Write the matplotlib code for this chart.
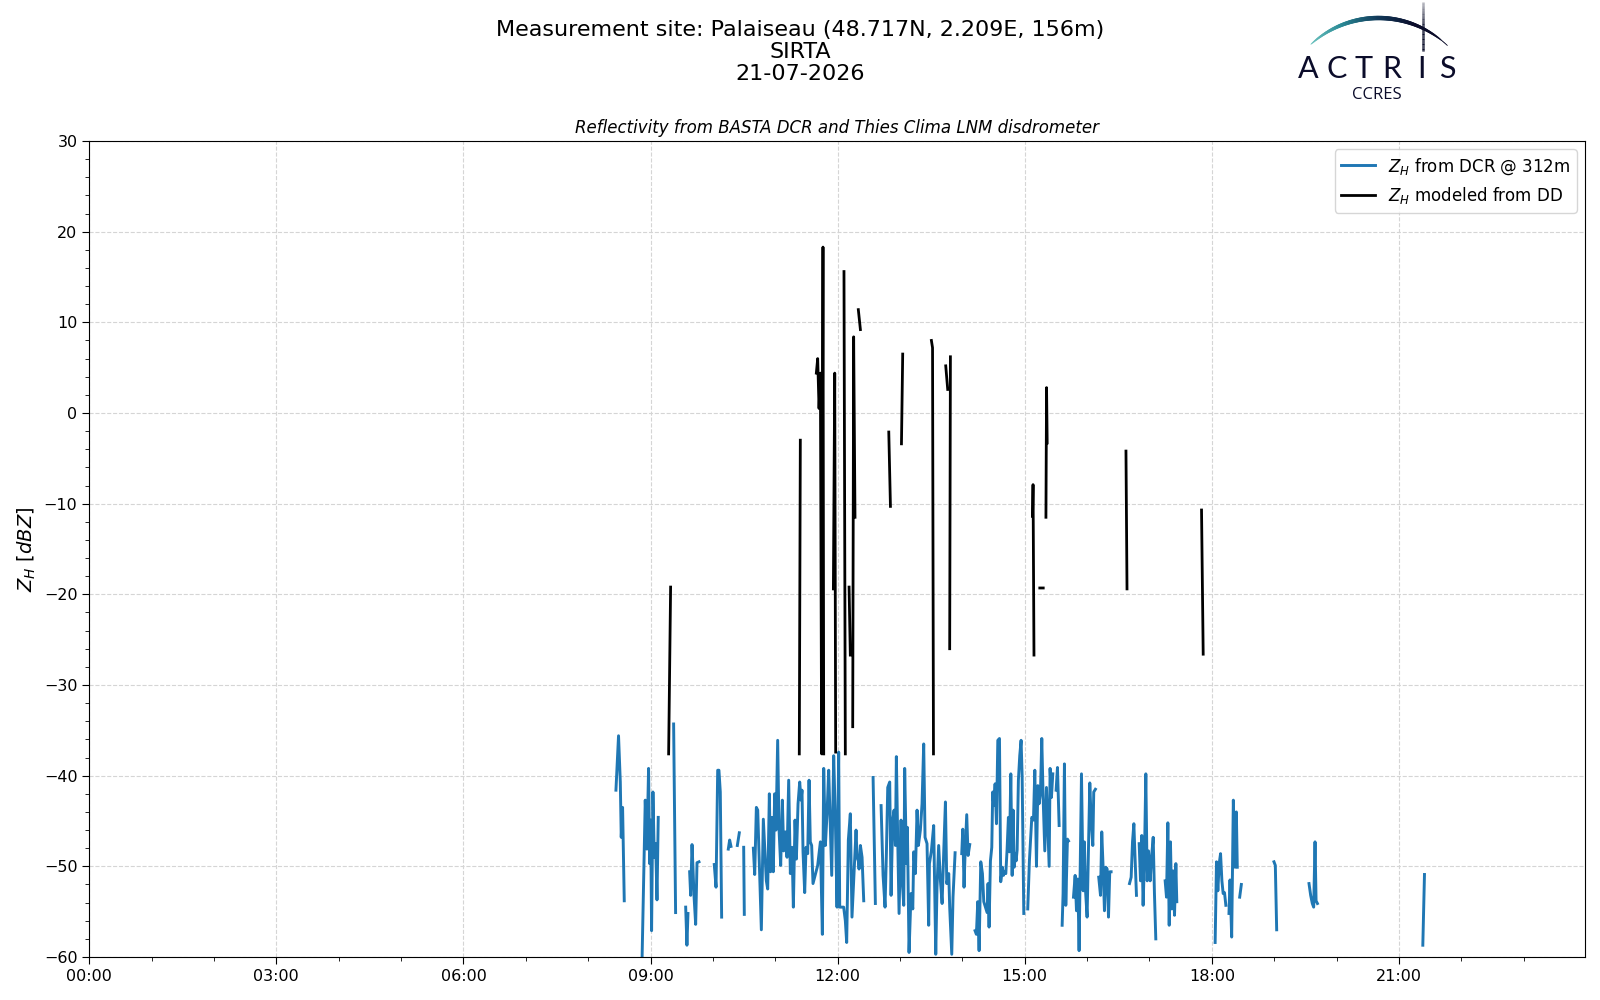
#!/usr/bin/env python3

import numpy as np
import matplotlib
matplotlib.use("Agg")
import matplotlib.pyplot as plt
import matplotlib.dates as mdates
from matplotlib.collections import LineCollection
from matplotlib.colors import LinearSegmentedColormap
import datetime as dt

nan = np.nan

# Z_H from the cloud radar at 312 m: minutes after midnight, dBZ (nan = gap)
dcr_time_min = [
    506.7, 509.2, 510.9, 511.8, 513.1, 514.7, nan,
    531.7, 534.9, 536.5, 538.1, 539.1, 540.1, 541.0, 542.3, 543.6, 544.9, 546.2, 547.4, nan,
    562.2, 564.1, nan,
    573.8, 575.0, 576.0, nan,
    577.6, 578.6, 579.9, 580.8, 581.8, 583.4, 584.7, 586.6, nan,
    601.3, 603.0, 604.6, 605.8, 607.1, 608.4, nan,
    614.8, 616.1, 617.4, nan,
    623.5, 625.4, nan,
    629.6, 630.2, nan,
    638.9, 640.2, 641.8, 643.1, 646.6, 648.5, 651.4, 652.7, 654.3, 655.5, 656.8, 658.1,
    659.4, 660.7, 662.3, 663.6, 665.2, 666.8, 668.1, 669.7, 671.3, 672.9, 674.5, 676.1,
    677.4, 679.0, 680.3, 681.9, 683.5, 684.8, 685.7, 686.7, 688.3, 689.6, 691.2, 692.5,
    693.7, 695.0, 696.3, 700.8, 703.4, 705.3, 706.6, 708.2, 709.8, 711.4, 713.0, 714.3,
    716.2, 717.8, 719.4, 721.0, 722.0, 725.8, 727.4, 728.7, 730.3, 732.2, 733.8,
    737.7, 738.7, 739.9, 740.6, 741.9, 743.5, 745.1, nan,
    754.1, 756.3, nan,
    761.8, 763.7, 765.6, 766.9, 768.2, 770.1, 771.4, 773.0, 774.3, 775.6, 776.5, 777.8,
    779.1, 781.0, 782.3, 783.6, 784.5, 786.2, 787.1, 788.7, 790.6, 792.3, 793.2, 794.8,
    796.4, 797.7, 799.6, 801.2, 802.8, 804.1, 806.0, 807.6, 808.3, 810.2, 812.4, 814.4,
    815.6, 817.2, 818.9, 820.5, 822.1, 823.7, 825.0, 826.9, 827.8, 829.8, 831.0, 833.0, nan,
    839.4, 840.4, 841.6, 842.6, 844.2, 845.5, 847.1, nan,
    852.2, 853.5, 854.8, 856.1, 857.7, 859.3, 860.6, 863.8, 864.7, 865.7, 867.0, 868.3,
    869.2, 870.2, 871.5, 872.8, 874.1, 875.7, 876.9, 878.5, 879.5, 880.5, 881.8, 883.0,
    884.3, 885.3, 886.6, 887.9, 888.8, 889.8, 890.7, 891.7, 892.7, 893.9, 895.2, 896.5,
    897.5, 899.1, nan,
    902.9, 904.5, 906.8, 908.4, 909.7, 911.3, 912.6, 913.8, 915.1, 916.4, 917.7, 919.3,
    920.9, 921.9, 923.5, 924.4, 925.7, 927.0, nan,
    930.2, 931.5, 933.1, nan,
    936.0, 936.9, 938.2, 939.5, 941.1, 942.1, nan,
    946.9, 948.5, 949.8, 951.1, 952.3, 954.6, 956.2, 957.4, 958.4, 960.0, 961.3, 962.6,
    963.9, 965.5, 966.4, 968.0, nan,
    971.2, 972.9, 974.1, 975.4, 976.7, 978.0, 979.3, 980.6, 981.8, 983.1, nan,
    1000.8, 1002.4, 1003.7, 1005.0, 1005.9, 1007.5, nan,
    1010.1, 1011.4, 1012.6, 1013.9, 1015.2, 1016.5, 1017.8, 1019.1, 1020.7, 1022.0, 1023.6,
    1024.8, 1026.1, nan,
    1035.1, 1036.4, 1037.7, 1039.0, 1040.2, 1041.5, 1042.8, 1044.1, 1045.4, 1046.3, nan,
    1083.2, 1084.5, 1085.8, 1087.1, 1088.4, 1089.7, 1090.9, 1092.2, 1093.5, nan,
    1096.5, 1097.5, 1099.1, 1100.7, 1102.3, 1103.6, 1104.5, nan,
    1106.8, 1108.4, nan,
    1139.8, 1141.1, 1142.4, nan,
    1173.5, 1175.1, 1176.7, 1178.0, 1179.3, 1180.3, 1181.6, nan,
    1283.0, 1284.6,
]
dcr_dbz = [
    -41.6, -35.6, -40.7, -46.8, -43.5, -53.8, nan,
    -61.0, -42.7, -48.1, -39.2, -49.7, -44.9, -57.1, -41.8, -49.0, -47.5, -53.7, -44.6, nan,
    -34.3, -55.1, nan,
    -54.5, -58.7, -55.2, nan,
    -50.6, -53.2, -47.6, -50.1, -53.2, -56.4, -49.6, -49.5, nan,
    -49.8, -52.3, -39.4, -39.4, -41.8, -55.6, nan,
    -48.1, -47.1, -47.8, nan,
    -47.7, -46.3, nan,
    -47.9, -55.3, nan,
    -48.0, -50.9, -43.5, -43.8, -57.0, -44.8, -51.6, -52.5, -42.0, -50.6, -44.6, -50.6,
    -42.0, -46.0, -36.1, -45.9, -49.9, -42.7, -48.3, -46.2, -49.0, -40.5, -50.8, -47.9,
    -54.5, -44.9, -49.2, -43.1, -40.7, -42.7, -41.6, -48.4, -52.9, -47.9, -48.6, -40.5,
    -47.3, -47.7, -51.9, -49.9, -47.3, -57.5, -39.2, -47.7, -44.2, -39.4, -46.0, -51.0,
    -37.8, -44.8, -54.5, -37.4, -54.5, -54.5, -56.0, -58.4, -47.1, -44.2, -55.6,
    -46.0, -49.0, -49.4, -50.3, -47.7, -49.0, -53.8, nan,
    -40.2, -54.1, nan,
    -43.3, -51.0, -54.5, -48.6, -41.3, -40.7, -53.2, -44.9, -43.8, -47.7, -37.9, -47.0,
    -55.2, -44.9, -51.9, -54.3, -39.2, -49.7, -45.7, -59.5, -53.0, -54.7, -48.4, -50.8,
    -43.8, -47.7, -46.0, -43.1, -36.5, -46.8, -47.5, -56.5, -49.7, -48.3, -45.5, -59.7,
    -52.3, -47.7, -51.6, -54.1, -48.3, -42.9, -51.9, -50.8, -54.5, -59.7, -53.4, -48.5, nan,
    -48.6, -45.9, -52.3, -48.6, -44.3, -48.8, -47.6, nan,
    -57.1, -57.5, -53.9, -59.3, -49.5, -50.8, -53.9, -55.1, -51.9, -56.7, -49.4, -47.9,
    -41.8, -43.3, -40.9, -45.3, -36.1, -35.9, -51.7, -50.1, -51.0, -50.6, -50.8, -48.2,
    -44.6, -48.4, -39.8, -51.0, -43.8, -50.1, -48.6, -49.4, -48.2, -40.5, -37.8, -36.1,
    -40.0, -55.2, nan,
    -54.7, -49.4, -44.6, -44.9, -39.4, -50.0, -41.1, -43.1, -42.0, -35.9, -42.4, -48.3,
    -41.3, -44.6, -50.0, -39.2, -42.4, -39.8, nan,
    -41.6, -39.1, -45.5, nan,
    -56.5, -53.0, -38.7, -54.3, -47.0, -47.2, nan,
    -53.4, -51.0, -54.9, -51.4, -59.3, -39.8, -52.7, -47.3, -52.5, -55.6, -47.9, -40.8,
    -44.9, -47.7, -41.8, -41.5, nan,
    -51.2, -53.2, -46.2, -50.1, -54.9, -50.1, -50.3, -55.6, -50.6, -50.6, nan,
    -51.9, -51.2, -47.3, -45.3, -48.3, -53.2, nan,
    -47.5, -51.6, -46.6, -54.3, -49.0, -39.8, -51.6, -48.3, -51.6, -49.0, -46.8,
    -53.0, -58.0, nan,
    -51.6, -53.4, -45.2, -56.5, -47.3, -54.7, -50.5, -55.4, -49.7, -53.9, nan,
    -58.4, -49.5, -52.7, -49.7, -48.6, -51.6, -53.0, -52.9, -54.3, nan,
    -55.2, -51.5, -57.8, -42.7, -50.1, -44.0, -50.1, nan,
    -53.4, -52.0, nan,
    -49.5, -49.9, -57.0, nan,
    -51.9, -53.2, -54.1, -54.5, -47.3, -53.8, -54.1, nan,
    -58.7, -50.9,
]

# Z_H modeled from the disdrometer drop size distribution
dd_time_min = [
    557.4, 559.3, nan,
    683.1, 684.1, nan,
    699.5, 700.8, 702.1, 703.4, 704.6, 705.9, 706.6, nan,
    715.9, 717.2, 718.1, nan,
    726.1, 727.4, nan,
    731.0, 732.2, nan,
    734.5, 735.4, 736.7, nan,
    739.9, 741.9, nan,
    769.2, 770.8, nan,
    781.4, 782.6, nan,
    810.2, 811.3, 812.2, nan,
    824.0, 825.9, nan,
    827.8, 828.5, nan,
    907.5, 908.0, 908.9, nan,
    914.5, 917.8, nan,
    920.4, 921.0, 921.6, nan,
    997.4, 998.4, nan,
    1070.1, 1071.7,
]
dd_dbz = [
    -37.6, -19.2, nan,
    -37.6, -3.0, nan,
    4.4, 6.0, 0.5, 4.4, -37.6, 18.3, -37.6, nan,
    -19.4, 4.4, -37.4, nan,
    15.6, -37.6, nan,
    -19.2, -26.7, nan,
    -34.6, 8.4, -11.5, nan,
    11.4, 9.2, nan,
    -2.1, -10.3, nan,
    -3.4, 6.5, nan,
    8.0, 7.2, -37.6, nan,
    5.2, 2.6, nan,
    -26.0, 6.2, nan,
    -11.4, -7.9, -26.7, nan,
    -19.3, -19.3, nan,
    -11.5, 2.8, -3.3, nan,
    -4.2, -19.4, nan,
    -10.7, -26.6,
]

day = dt.datetime(2026, 7, 21)
day0 = mdates.date2num(day)

def to_dates(minutes):
    return day0 + np.asarray(minutes, dtype=float) / 1440.0

fig = plt.figure(figsize=(16, 10), dpi=100)
ax = fig.add_axes([0.0558, 0.043, 0.9348, 0.816])

ax.plot(to_dates(dcr_time_min), dcr_dbz, color='#1f77b4', linewidth=2.1,
        label='$Z_H$ from DCR @ 312m')
ax.plot(to_dates(dd_time_min), dd_dbz, color='black', linewidth=2.0,
        label='$Z_H$ modeled from DD')

ax.set_xlim(day0, day0 + 1439 / 1440)
ax.set_ylim(-60, 30)
ax.xaxis_date()
ax.xaxis.set_major_locator(mdates.HourLocator(byhour=range(0, 24, 3)))
ax.xaxis.set_minor_locator(mdates.HourLocator())
ax.xaxis.set_major_formatter(mdates.DateFormatter('%H:%M'))
ax.set_yticks(np.arange(-60, 31, 10))
ax.set_yticks(np.arange(-60, 31, 2), minor=True)
ax.tick_params(axis='both', which='major', labelsize=11.5, length=5)
ax.tick_params(axis='both', which='minor', length=3)
ax.grid(True, which='major', linestyle='--', color='#d5d5d5', linewidth=0.8)
ax.set_ylabel('$Z_H$ $[dBZ]$', fontsize=14)
ax.set_title('Reflectivity from BASTA DCR and Thies Clima LNM disdrometer',
             fontsize=12, style='italic', pad=6)
ax.legend(loc='upper right', fontsize=12)

fig.text(0.5, 0.98, 'Measurement site: Palaiseau (48.717N, 2.209E, 156m)\nSIRTA\n21-07-2026',
         ha='center', va='top', fontsize=16, linespacing=1.13)

# ACTRIS / CCRES logo, drawn in pixel coordinates
lg = fig.add_axes([1290 / 1600, 1 - 110 / 1000, 180 / 1600, 110 / 1000])
lg.set_xlim(1290, 1470)
lg.set_ylim(110, 0)
lg.axis('off')

navy = '#0b0c2a'
theta = np.linspace(np.radians(180 - 47.5), np.radians(46.5), 120)
cx, cy, r = 1378.5, 118.0, 100.0
px = cx + r * np.cos(theta)
py = cy - r * np.sin(theta)
pts = np.array([px, py]).T.reshape(-1, 1, 2)
segs = np.concatenate([pts[:-1], pts[1:]], axis=1)
arc_cmap = LinearSegmentedColormap.from_list('arc', ['#6ec4c0', '#2a8a96', '#123a5a', navy, navy])
frac = np.linspace(0, 1, len(segs))
widths = 0.6 + 2.6 * np.sin(np.pi * np.clip(frac * 1.05, 0, 1)) ** 0.7
lc = LineCollection(segs, colors=arc_cmap(frac), linewidths=widths, capstyle='round')
lg.add_collection(lc)

# mast through the arc
mast_y = np.linspace(2, 51, 40)
mast_pts = np.array([np.full_like(mast_y, 1423.0), mast_y]).T.reshape(-1, 1, 2)
mast_segs = np.concatenate([mast_pts[:-1], mast_pts[1:]], axis=1)
mast_alpha = np.clip(np.linspace(0.3, 1.6, len(mast_segs)), 0, 1)
mast_cols = [(0.04, 0.05, 0.16, a) for a in mast_alpha]
lg.add_collection(LineCollection(mast_segs, colors=mast_cols, linewidths=1.8))

for letter, lx in zip('ACTRIS', [1308, 1337, 1364, 1392, 1421, 1447]):
    lg.text(lx, 77.5, letter, ha='center', va='baseline', fontsize=22,
            family='Lato', fontweight='normal', color=navy)
lg.text(1377, 99, 'CCRES', ha='center', va='baseline', fontsize=12,
        family='Open Sans', color=navy)

fig.savefig('out.png', dpi=100, facecolor='white')
plt.close(fig)
